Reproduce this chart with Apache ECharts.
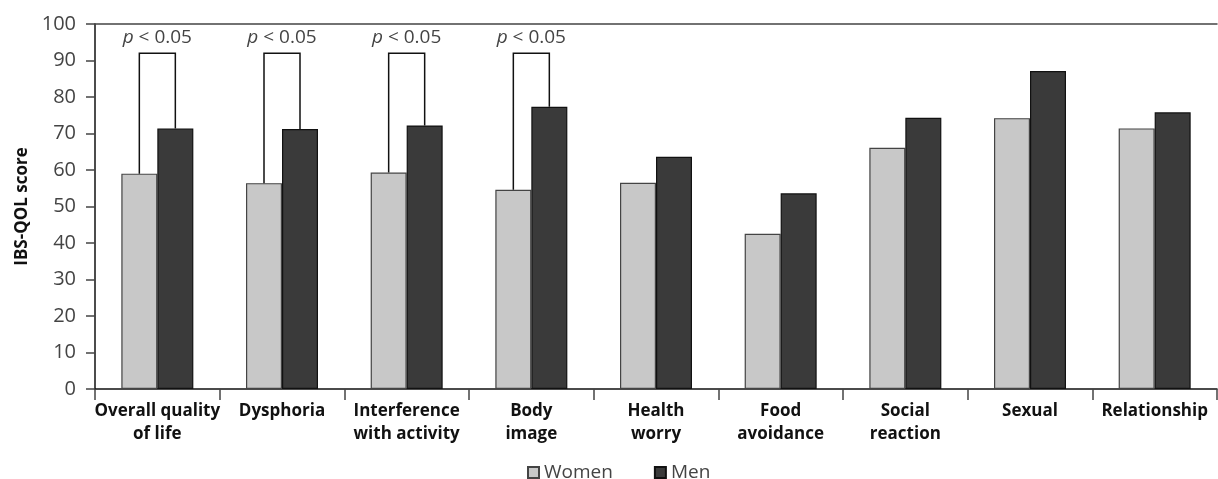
<!DOCTYPE html>
<html>
<head>
<meta charset="utf-8">
<script src="https://cdn.jsdelivr.net/npm/echarts@6/dist/echarts.min.js"></script>
<style>
  html, body { margin:0; padding:0; background:#fff; }
  #main { width:1218px; height:479px; }
</style>
</head>
<body>
<div id="main"></div>
<script>
var categories = ['Overall quality\nof life', 'Dysphoria', 'Interference\nwith activity', 'Body\nimage',
                  'Health\nworry', 'Food\navoidance', 'Social\nreaction', 'Sexual', 'Relationship'];
var women = [59.0, 56.4, 59.3, 54.6, 56.5, 42.5, 66.1, 74.2, 71.4];
var men   = [71.4, 71.2, 72.2, 77.3, 63.6, 53.6, 74.3, 87.1, 75.8];
// categories with a significance bracket, and bracket height
var sigIndex = [0, 1, 2, 3];
var sigTop = 92;
var sigText = 'p < 0.05';

var font = 'Open Sans';
var barW = 36;

var chart = echarts.init(document.getElementById('main'));

var bracketData = sigIndex.map(function (i) {
  return [i, women[i], men[i], sigTop];
});

var option = {
  animation: false,
  textStyle: { fontFamily: font },
  grid: { left: 95, right: 1, top: 24, bottom: 90 },
  legend: {
    left: 522, top: 458,
    itemWidth: 11, itemHeight: 11,
    itemGap: 41,
    icon: 'rect',
    textStyle: { fontFamily: font, fontSize: 19, color: '#444' },
    data: ['Women', 'Men']
  },
  xAxis: [{
    type: 'category',
    data: categories,
    axisLine: { lineStyle: { color: '#111', width: 1.5 } },
    axisTick: { show: true, length: 11, lineStyle: { color: '#444', width: 1.5 } },
    axisLabel: {
      interval: 0, margin: 11,
      color: '#111', fontFamily: font, fontSize: 17, fontWeight: 'bold', lineHeight: 23
    },
    splitLine: { show: false }
  }, {
    type: 'category',
    position: 'top',
    data: categories,
    axisLine: { lineStyle: { color: '#444', width: 1.5 } },
    axisTick: { show: false },
    axisLabel: { show: false }
  }],
  yAxis: {
    type: 'value',
    min: 0, max: 100, interval: 10,
    name: 'IBS-QOL score',
    nameLocation: 'middle',
    nameGap: 63,
    nameTextStyle: { fontFamily: font, fontSize: 17, fontWeight: 'bold', color: '#111' },
    axisLine: { show: true, lineStyle: { color: '#111', width: 1.5 } },
    axisTick: { show: true, length: 9, lineStyle: { color: '#444', width: 1.5 } },
    axisLabel: { margin: 19, color: '#444', fontFamily: font, fontSize: 20 },
    splitLine: { show: false }
  },
  series: [{
    name: 'Women',
    type: 'bar',
    barWidth: barW,
    barGap: '0%',
    data: women,
    itemStyle: { color: '#c8c8c8', borderColor: '#444', borderWidth: 1.2 },
    emphasis: { disabled: true }
  }, {
    name: 'Men',
    type: 'bar',
    barWidth: barW,
    barGap: '0%',
    data: men,
    itemStyle: { color: '#3a3a3a', borderColor: '#111', borderWidth: 1.2 },
    emphasis: { disabled: true }
  }, {
    type: 'custom',
    xAxisIndex: 0, yAxisIndex: 0,
    z: 5,
    silent: true,
    data: bracketData,
    renderItem: function (params, api) {
      var c = api.value(0);
      var pw = api.coord([c, api.value(1)]);
      var pm = api.coord([c, api.value(2)]);
      var pt = api.coord([c, api.value(3)]);
      var xl = pw[0] - barW / 2, xr = pw[0] + barW / 2;
      return {
        type: 'group',
        children: [{
          type: 'polyline',
          shape: { points: [[xl, pw[1]], [xl, pt[1]], [xr, pt[1]], [xr, pm[1]]] },
          style: { stroke: '#111', lineWidth: 1.5, fill: null }
        }, {
          type: 'text',
          x: pt[0], y: pt[1] - 6,
          style: {
            text: '{i|p} ' + sigText.slice(2),
            align: 'center', verticalAlign: 'bottom',
            fill: '#444', font: '19px "' + font + '"',
            rich: { i: { fontStyle: 'italic', fontSize: 19, fontFamily: font, fill: '#444' } }
          }
        }]
      };
    }
  }]
};
chart.setOption(option);
</script>
</body>
</html>
